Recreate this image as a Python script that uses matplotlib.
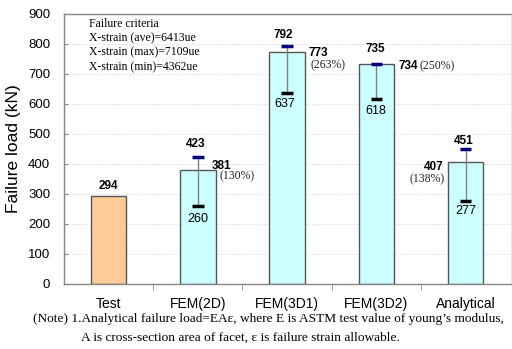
import matplotlib
matplotlib.use("Agg")
from matplotlib import pyplot as plt

categories = ["Test", "FEM(2D)", "FEM(3D1)", "FEM(3D2)", "Analytical"]
loads = [294, 381, 773, 734, 407]
upper = [None, 423, 792, 735, 451]
lower = [None, 260, 637, 618, 277]
ratios = ["", "(130%)", "(263%)", "(250%)", "(138%)"]
bar_colors = ["#FFCC99", "#CCFFFF", "#CCFFFF", "#CCFFFF", "#CCFFFF"]

criteria = ["Failure criteria",
            "X-strain (ave)=6413ue",
            "X-strain (max)=7109ue",
            "X-strain (min)=4362ue"]
note = ["(Note) 1.Analytical failure load=EA\u03b5, where E is ASTM test value of young\u2019s modulus,",
        "A is cross-section area of facet, \u03b5 is failure strain allowable."]

sans = "Liberation Sans"
serif = "Liberation Serif"

fig = plt.figure(figsize=(5.12, 3.49), dpi=100)
ax = fig.add_axes([64 / 512, 1 - 284 / 349, 1 - 64 / 512, 270 / 349])

x = list(range(len(categories)))
ax.bar(x, loads, width=0.4, color=bar_colors, edgecolor="#555555", linewidth=1.0, zorder=2)

# min/max range of the predictions
for i in x:
    if upper[i] is None:
        continue
    ax.vlines(i, lower[i], upper[i], color="#808080", linewidth=1.0, zorder=3)
    ax.hlines(upper[i], i - 0.065, i + 0.065, color="#000080", linewidth=2.5, zorder=4)
    ax.hlines(lower[i], i - 0.065, i + 0.065, color="black", linewidth=2.5, zorder=4)

ax.set_xlim(-0.5, 4.52)
ax.set_ylim(0, 900)
ax.set_yticks(range(0, 901, 100))
ax.set_xticks(x)
ax.set_xticklabels(categories, fontname=sans, fontsize=10)
ax.set_xticks([0.5, 1.5, 2.5, 3.5], minor=True)
for lab in ax.get_yticklabels():
    lab.set_fontname(sans)
    lab.set_fontsize(9.5)
ax.tick_params(axis="x", which="major", length=0, pad=9.5)
ax.tick_params(axis="x", which="minor", length=4, direction="out", color="#888888")
ax.tick_params(axis="y", length=3, direction="in", color="#888888", pad=10)
ax.set_ylabel("Failure load (kN)", fontname=sans, fontsize=12.5, labelpad=5)

ax.yaxis.grid(True, linestyle=(0, (1, 2)), color="#C8C8C8", linewidth=0.6, zorder=0)
ax.set_axisbelow(True)
for side in ["left", "bottom", "top", "right"]:
    ax.spines[side].set_color("#888888")
    ax.spines[side].set_linewidth(1.0)

num = dict(textcoords="offset pixels", fontname=sans, fontsize=8.5)

# test value
ax.annotate(str(loads[0]), (0, loads[0]), xytext=(0, 10), ha="center", va="center",
            fontweight="bold", **num)

# max / min labels
up_off = [None, (-2, 13), (-4, 11), (-1, 14), (-2, 8)]
lo_off = [None, (0, -13), (-2, -11), (-1, -12), (0, -10)]
for i in x[1:]:
    ax.annotate(str(upper[i]), (i, upper[i]), xytext=up_off[i], ha="center", va="center",
                fontweight="bold", **num)
    ax.annotate(str(lower[i]), (i, lower[i]), xytext=lo_off[i], ha="center", va="center",
                fontsize=9, textcoords="offset pixels", fontname=sans)

# bar values with ratio to test
val_off = [None, (14, 4), (21, -1), (22, -2), (-22, -5)]
pct_off = [None, (22, -7), (23, -13), (43, -2), (-21, -17)]
for i in x[1:]:
    ha = "right" if i == 4 else "left"
    ax.annotate(str(loads[i]), (i, loads[i]), xytext=val_off[i], ha=ha, va="center",
                fontweight="bold", **num)
    ax.annotate(ratios[i], (i, loads[i]), xytext=pct_off[i], ha=ha, va="center",
                textcoords="offset pixels", fontname=serif, fontsize=8.5, color="#222222")

for k, line in enumerate(criteria):
    fig.text(89 / 512, 1 - (24 + 14.3 * k) / 349, line, ha="left", va="center",
             fontname=serif, fontsize=8.5)

fig.text(33 / 512, 1 - 319 / 349, note[0], ha="left", va="center", fontname=serif, fontsize=9.6)
fig.text(81 / 512, 1 - 338 / 349, note[1], ha="left", va="center", fontname=serif, fontsize=9.6)

fig.savefig("out.png", dpi=100)
